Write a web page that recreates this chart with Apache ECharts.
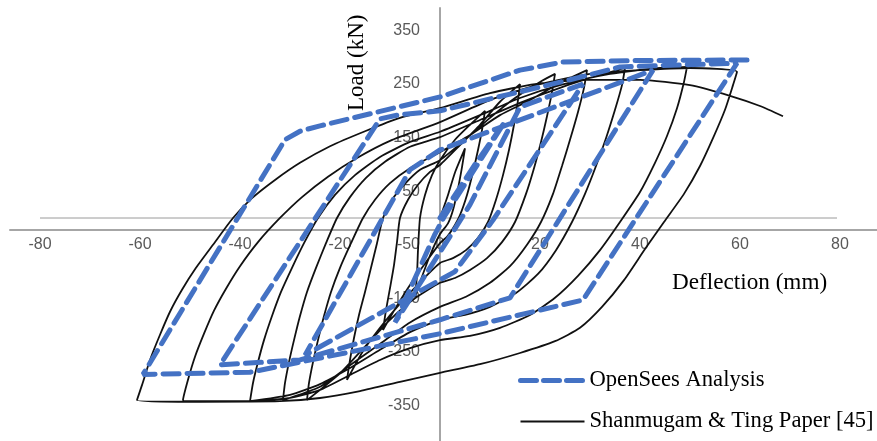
<!DOCTYPE html>
<html><head><meta charset="utf-8">
<script src="https://cdn.jsdelivr.net/npm/echarts@6/dist/echarts.min.js"></script>
<style>html,body{margin:0;padding:0;background:#fff}#c{width:877px;height:441px}</style>
</head><body><div id="c"></div>
<script>
// ---- tick labels ----
const xTicks = [-80, -60, -40, -20, 0, 20, 40, 60, 80];
const yTicks = [-350, -250, -150, -50, 50, 150, 250, 350];

// ---- OpenSees Analysis (blue dashed), [deflection mm, load kN] ----
const blueInit    = [[0,0],[7,100],[13,180]];
const blueUnload1 = [[13,180],[1,5],[-1,-30],[-9,-195]];
const blueReload1 = [[-9,-195],[3,-20],[6,25],[16,207],[28.6,250]];
const blueUnload2 = [[28.6,250],[10.6,-4],[3,-100],[-27,-256]];
const blueReload2 = [[-27,-256],[-6,90],[0,127],[42.6,276]];
const blueUnload3 = [[42.6,276],[14,-149],[0,-190],[-28,-265],[-44,-274]];
const blueReload3 = [[-44,-274],[-12,185],[-8,193],[0,200],[26,258],[36,282],[59.4,289]];
const blueUnload4 = [[59.4,289],[28.6,-153],[0,-216],[-38,-288],[-59.4,-292]];
const blueReload4 = [[-59.4,-292],[-31,146],[-28,162],[-24,172],[0,226],[16,276],[24.6,291],[40,294],[61.4,295]];

// ---- Shanmugam & Ting Paper [45] (black), [deflection mm, load kN] ----
const expInit    = [[0,0],[1.5,40],[3,85],[5,130]];
const expUnload1 = [[5,130],[4.4,95],[3.6,55],[2.6,15],[1.6,-10],[0,-30],[-2,-70],[-4,-120],[-5,-149]];
const expReload1 = [[-5,-149],[-4.6,-106],[-4.4,-60],[-4,0],[-3,43],[-1.6,80],[0,108],[3,146],[6,174],[9,200]];
const expUnload2 = [[9,200],[8.4,164],[7.6,127],[6.6,86],[5.4,43],[4,5.6],[2.6,-19],[1.4,-35],[0,-47],[-3,-85],[-6,-125],[-9,-170],[-11.4,-209]];
const expReload2 = [[-11.4,-209],[-10.8,-172],[-10,-131],[-9.2,-88],[-8.6,-45],[-8,0],[-6.4,34],[-4.4,62],[-2,86],[0,99],[4,136],[8,174],[12,217],[16,250]];
const expUnload3 = [[16,250],[15.6,220],[14.8,174],[13.8,127],[12.6,80],[11.2,34],[9.6,-7.5],[7.6,-37],[5.2,-60],[2.6,-75],[0,-84],[-4,-120],[-8,-160],[-12,-205],[-15.5,-250],[-18.6,-302]];
const expReload3 = [[-18.6,-302],[-18,-265],[-17.2,-224],[-16.2,-181],[-15,-138],[-13.8,-93],[-12.6,-47],[-11.4,0],[-9.6,34],[-7.2,62],[-4,90],[0,108],[5,146],[10,187],[15,224],[20,254],[23,269]];
const expUnload4 = [[23,269],[22.4,235],[21.4,190],[20.2,142],[18.8,93],[17.2,45],[15,-7.5],[12.4,-45],[9.4,-75],[6,-97],[3,-112],[0,-121],[-5,-150],[-10,-190],[-15,-240],[-20,-290],[-26.6,-340]];
const expReload4 = [[-26.6,-340],[-26.2,-308],[-25.4,-269],[-24.4,-228],[-23.2,-183],[-21.8,-138],[-20,-93],[-17.8,-47],[-15.4,0],[-13,34],[-10,65],[-6,93],[0,123],[6,155],[12,192],[18,220],[24,252],[29.4,276]];
const expUnload5 = [[29.4,276],[28.8,243],[27.6,198],[26,146],[24.4,97],[22.6,45],[20.2,-7.5],[17.4,-50],[14,-90],[10,-121],[5.2,-147],[0,-166],[-6,-195],[-12,-235],[-18,-275],[-24,-315],[-31.4,-340]];
const expReload5 = [[-31.4,-340],[-31,-308],[-30.2,-269],[-29.2,-228],[-28,-183],[-26.6,-138],[-24.8,-93],[-22.8,-47],[-20.6,0],[-18,39],[-14.8,75],[-11,105],[-6,133],[0,151],[8,183],[16,215],[24,243],[32,267],[37,280]];
const expUnload6 = [[37,280],[36.4,248],[35,202],[33.2,149],[31.2,97],[29,45],[26.4,-7.5],[23.2,-60],[19.6,-104.5],[15.2,-140],[10,-166],[5,-181],[0,-190],[-6,-213],[-12,-246],[-18,-280],[-24,-310],[-30,-330],[-38,-342]];
const expReload6 = [[-38,-342],[-37.4,-308],[-36.4,-269],[-35.2,-228],[-33.6,-183],[-31.8,-138],[-29.6,-93],[-27.2,-47],[-24.4,0],[-21,43],[-17,80],[-12,114],[-6,142],[0,161],[8,192],[16,224],[24,248],[34,269],[44,280],[49.4,282]];
const expUnload7 = [[49.4,282],[48.8,254],[47.4,205],[45.4,153],[43,103],[40,48.5],[36,-7.5],[32,-60],[27.6,-108],[23,-149],[18,-181],[12,-205],[6,-220],[0,-228],[-6,-243],[-12,-265],[-18,-293],[-24,-321],[-30,-336],[-38,-342],[-51.4,-340]];
const expReload7 = [[-51.4,-340],[-50.4,-302],[-49,-259],[-47.2,-216],[-45.2,-173],[-42.8,-132],[-40,-90],[-36.4,-45],[-32,0],[-27.6,39],[-22.4,77],[-16.6,112],[-10,144],[0,179],[10,220],[20,250],[30,269],[40,276],[50,280],[59.4,273]];
const expUnload8 = [[59.4,273],[58.6,248],[57,202],[54.6,149],[52,97],[48.8,45],[44.8,-7.5],[41,-58],[36.8,-116],[32.4,-166],[28,-205],[23,-230],[16,-252],[8,-273],[0,-289],[-8,-306],[-16,-323],[-24,-336],[-32,-342],[-48,-343],[-60.6,-340]];
const expReload8 = [[-60.6,-340],[-59.6,-312],[-58,-265],[-56,-218],[-54,-175],[-51.6,-134],[-48.8,-93],[-45.4,-50],[-41.4,0],[-37.6,37],[-33,71],[-28,103],[-22,134],[-15,162],[-8,187],[0,205],[10,233],[19,250],[29,258],[40,258],[50,248],[58,228],[64,209],[68.6,190]];

const blueData = [].concat(blueInit, blueUnload1, blueReload1, blueUnload2, blueReload2,
  blueUnload3, blueReload3, blueUnload4, blueReload4);
const expData = [].concat(expInit, expUnload1, expReload1, expUnload2, expReload2, expUnload3, expReload3,
  expUnload4, expReload4, expUnload5, expReload5, expUnload6, expReload6, expUnload7, expReload7,
  expUnload8, expReload8);

const labelFont = { color: '#595959', fontSize: 16, fontFamily: 'Liberation Sans' };
const chart = echarts.init(document.getElementById('c'));
chart.setOption({
  animation: false,
  backgroundColor: '#ffffff',
  grid: [
    { left: 10, right: 0, top: 8, bottom: 0, containLabel: false, outerBoundsMode: 'none' },
    { left: 10, right: 0, top: 8, bottom: 211, containLabel: false, outerBoundsMode: 'none' },
    { left: 440, right: 0, top: 8, bottom: 0, containLabel: false, outerBoundsMode: 'none' }
  ],
  xAxis: [
    { gridIndex: 0, type: 'value', min: -86, max: 87.4, show: false },
    { gridIndex: 1, type: 'value', min: -86, max: 87.4, splitLine: { show: false }, axisTick: { show: false },
      axisLine: { show: true, onZero: false, lineStyle: { color: '#a6a6a6', width: 2 } },
      axisLabel: Object.assign({ customValues: xTicks, margin: 7 }, labelFont) },
    { gridIndex: 2, type: 'value', min: 0, max: 1, show: false }
  ],
  yAxis: [
    { gridIndex: 0, type: 'value', min: -416.3, max: 392, show: false },
    { gridIndex: 1, type: 'value', min: 0, max: 1, show: false },
    { gridIndex: 2, type: 'value', min: -416.3, max: 392, splitLine: { show: false }, axisTick: { show: false },
      axisLine: { show: true, onZero: false, lineStyle: { color: '#a6a6a6', width: 2 } },
      axisLabel: Object.assign({ customValues: yTicks, margin: 20 }, labelFont) }
  ],
  legend: {
    orient: 'vertical', left: 513, top: 364, itemWidth: 64, itemHeight: 14, itemGap: 18,
    itemStyle: { opacity: 0 },
    textStyle: { fontFamily: 'Liberation Serif', fontSize: 22.6, color: '#000' },
    data: [
      { name: 'OpenSees Analysis', lineStyle: { width: 5, type: [16, 7], cap: 'round', color: '#4472c4' } },
      { name: 'Shanmugam & Ting Paper [45]', lineStyle: { width: 2, color: '#111' } }
    ]
  },
  graphic: [
    { type: 'line', shape: { x1: 40, y1: 218, x2: 837, y2: 218 }, style: { stroke: '#9a9a9a', lineWidth: 1 }, silent: true, z: 1 },
    { type: 'text', left: 672, top: 271, style: { text: 'Deflection (mm)', fontFamily: 'Liberation Serif', fontSize: 23.2, fill: '#000' } },
    { type: 'text', x: 345, y: 111, rotation: Math.PI / 2, style: { text: 'Load (kN)', fontFamily: 'Liberation Serif', fontSize: 23, fill: '#000' } }
  ],
  series: [{
    name: 'Shanmugam & Ting Paper [45]', type: 'line', xAxisIndex: 0, yAxisIndex: 0, data: expData, symbol: 'none', smooth: 0.2,
    lineStyle: { color: '#111', width: 1.8 }, itemStyle: { color: '#111' }, z: 2
  }, {
    name: 'OpenSees Analysis', type: 'line', xAxisIndex: 0, yAxisIndex: 0, data: blueData, symbol: 'none',
    lineStyle: { color: '#4472c4', width: 5, type: [16, 8], cap: 'round' }, itemStyle: { color: '#4472c4' }, z: 3
  }]
});
</script></body></html>
